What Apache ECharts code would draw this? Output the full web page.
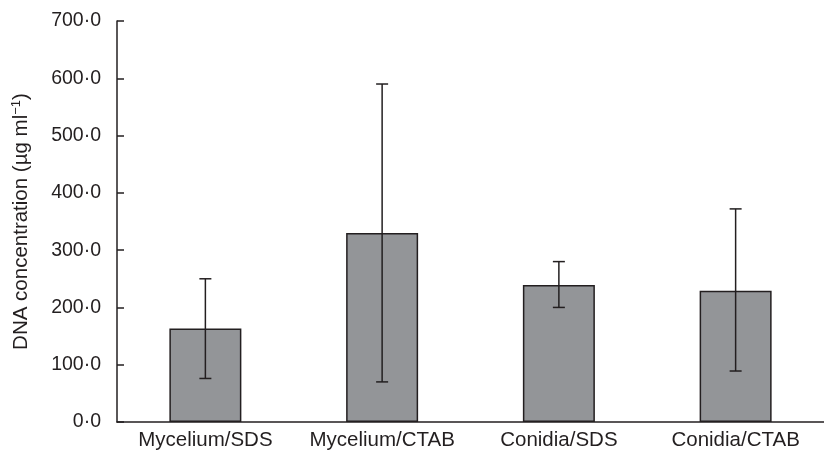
<!DOCTYPE html>
<html>
<head>
<meta charset="utf-8">
<script src="https://cdn.jsdelivr.net/npm/echarts@6/dist/echarts.min.js"></script>
<style>
  html, body { margin: 0; padding: 0; background: #fff; }
  #chart { width: 824px; height: 454px; }
</style>
</head>
<body>
<div id="chart"></div>
<script>
const categories = ['Mycelium/SDS', 'Mycelium/CTAB', 'Conidia/SDS', 'Conidia/CTAB']
const means = [163, 330, 239, 229]
const errLow = [76, 70, 200, 89]
const errHigh = [250, 590, 280, 372]

const chart = echarts.init(document.getElementById('chart'))
const font = 'Liberation Sans, Arial, Helvetica, sans-serif'
const ink = '#231f20'

const option = {
  animation: false,
  grid: {
    left: 117,
    right: -3,
    top: 21,
    bottom: 32
  },
  xAxis: {
    type: 'category',
    data: categories,
    axisLine: { lineStyle: { color: ink, width: 1.5 } },
    axisTick: { inside: true, length: 7, lineStyle: { color: ink, width: 1.5 } },
    axisLabel: {
      interval: 0,
      hideOverlap: false,
      color: ink,
      fontFamily: font,
      fontSize: 20.5,
      margin: 8
    }
  },
  yAxis: {
    type: 'value',
    min: 0,
    max: 700,
    interval: 100,
    name: 'DNA concentration (µg ml{sup|−1})',
    nameLocation: 'middle',
    nameGap: 84,
    nameTextStyle: {
      color: ink,
      fontFamily: font,
      fontSize: 20.5,
      rich: {
        sup: { fontSize: 13, fontFamily: font, color: ink, padding: [0, 0, 10, 0] }
      }
    },
    axisLine: { show: true, lineStyle: { color: ink, width: 1.5 } },
    axisTick: { show: true, inside: true, length: 7, lineStyle: { color: ink, width: 1.5 } },
    axisLabel: {
      color: ink,
      fontFamily: font,
      fontSize: 19.5,
      margin: 16,
      formatter: (v) => v.toFixed(1).replace('.', '·')
    },
    splitLine: { show: false }
  },
  series: [
    {
      type: 'bar',
      data: means,
      barWidth: 72,
      itemStyle: { color: '#939598', borderColor: ink, borderWidth: 1.5 }
    },
    {
      type: 'custom',
      data: categories.map((c, i) => [i, errLow[i], errHigh[i]]),
      renderItem: (params, api) => {
        const lo = api.coord([api.value(0), api.value(1)])
        const hi = api.coord([api.value(0), api.value(2)])
        const half = 6
        const style = { stroke: ink, lineWidth: 1.5 }
        return {
          type: 'group',
          children: [
            { type: 'line', shape: { x1: lo[0], y1: lo[1], x2: hi[0], y2: hi[1] }, style },
            { type: 'line', shape: { x1: lo[0] - half, y1: lo[1], x2: lo[0] + half, y2: lo[1] }, style },
            { type: 'line', shape: { x1: hi[0] - half, y1: hi[1], x2: hi[0] + half, y2: hi[1] }, style }
          ]
        }
      },
      z: 10
    }
  ]
}

chart.setOption(option)
</script>
</body>
</html>
